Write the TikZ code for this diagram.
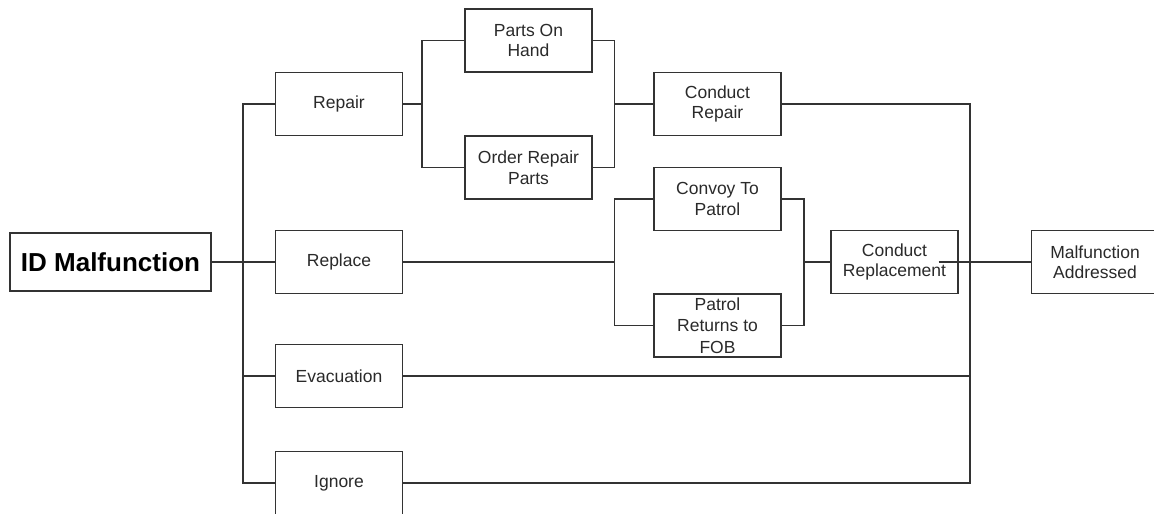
\documentclass[tikz,border=0pt]{standalone}
\usepackage{fontspec}
\setmainfont{Liberation Sans}
\definecolor{ln}{HTML}{333333}
\definecolor{tx}{HTML}{2A2A2A}
\begin{document}
\begin{tikzpicture}[x=1pt,y=-1pt,
  box/.style={draw=ln,line width=1.3pt,minimum width=127pt,minimum height=63pt,inner sep=0pt,
    align=center,text=tx,font=\fontsize{17.5}{20.5}\selectfont},
  wire/.style={draw=ln,line width=1.3pt}]
\useasboundingbox (0,0) rectangle (1154,514);
\fill[white] (0,0) rectangle (1154,514);
% nodes
\node[box,minimum width=201pt,minimum height=58pt,font=\fontsize{26}{30}\bfseries\selectfont,text=black] (idm) at (110.5,262) {ID Malfunction};
\node[box] (repair) at (339,104) {Repair};
\node[box] (replace) at (339,262) {Replace};
\node[box] (evac) at (339,376) {Evacuation};
\node[box] (ignore) at (339,483) {Ignore};
\node[box] (poh) at (528.5,40.5) {Parts On\\Hand};
\node[box] (orp) at (528.5,167.5) {Order Repair\\Parts};
\node[box] (crep) at (717.5,104) {Conduct\\Repair};
\node[box] (convoy) at (717.5,199) {Convoy To\\Patrol};
\node[box,font=\fontsize{17.5}{21.5}\selectfont] (patrol) at (717.5,325.5) {Patrol\\Returns to\\FOB};
\node[box] (crepl) at (894.5,262) {Conduct\\Replacement};
\node[box] (maddr) at (1095,262) {Malfunction\\Addressed};
% bus coordinates
\coordinate (b1) at (243,262);
\coordinate (b2) at (422,104);
\coordinate (b3) at (614.5,104);
\coordinate (b4) at (614.5,262);
\coordinate (b5) at (804,262);
\coordinate (b6t) at (970,104);
\coordinate (b6b) at (970,483);
% connectors
\draw[wire] (idm.east) -- (replace.west);
\draw[wire] (repair.west) -| (b1) |- (ignore.west);
\draw[wire] (evac.west) -- (evac.west -| b1);
\draw[wire] (repair.east) -- (b2);
\draw[wire] (poh.west) -| (b2) |- (orp.west);
\draw[wire] (poh.east) -| (b3) |- (orp.east);
\draw[wire] (b3) -- (crep.west);
\draw[wire] (replace.east) -- (b4);
\draw[wire] (convoy.west) -| (b4) |- (patrol.west);
\draw[wire] (convoy.east) -| (b5) |- (patrol.east);
\draw[wire] (b5) -- (crepl.west);
\draw[wire] (crep.east) -- (b6t) -- (b6b) -- (ignore.east);
\draw[wire] (evac.east) -- (evac.east -| b6t);
\draw[wire] ([xshift=-20pt]crepl.east) -- (maddr.west);
\draw[draw=ln,line width=2.4pt] (crepl.east) -- ([xshift=44pt]crepl.east);
\end{tikzpicture}
\end{document}
